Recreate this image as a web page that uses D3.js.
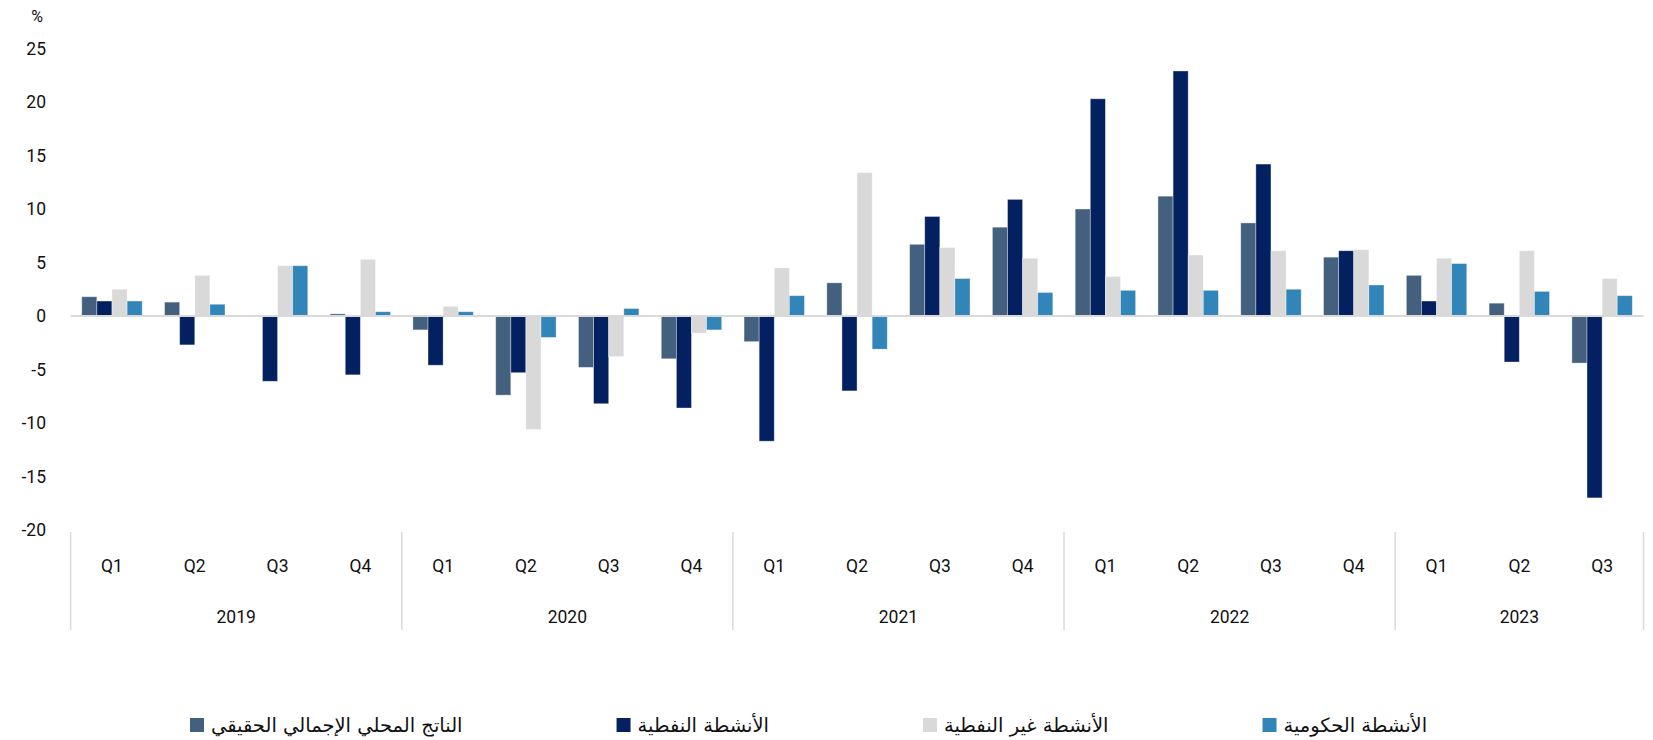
<!DOCTYPE html>
<html>
<head>
<meta charset="utf-8">
<script src="https://cdn.jsdelivr.net/npm/d3@7"></script>
<style>
  body { margin: 0; background: #fff; }
  svg { display: block; }
  .tick-label { font-family: Roboto, "DejaVu Sans", sans-serif; font-size: 17.5px; fill: #111; }
  .legend-label { font-family: "DejaVu Sans", sans-serif; font-size: 19.5px; fill: #111; }
</style>
</head>
<body>
<svg id="chart"></svg>
<script>
// data (% y/y)
const years = ['2019', '2020', '2021', '2022', '2023'];
const quartersPerYear = [4, 4, 4, 4, 3];
const quarterNames = ['Q1', 'Q2', 'Q3', 'Q4'];

const gdp    = [1.8, 1.3, 0.0, 0.2, -1.3, -7.4, -4.8, -4.0, -2.4, 3.1, 6.7, 8.3, 10.0, 11.2, 8.7, 5.5, 3.8, 1.2, -4.4];
const oil    = [1.4, -2.7, -6.1, -5.5, -4.6, -5.3, -8.2, -8.6, -11.7, -7.0, 9.3, 10.9, 20.3, 22.9, 14.2, 6.1, 1.4, -4.3, -17.0];
const nonOil = [2.5, 3.8, 4.7, 5.3, 0.9, -10.6, -3.8, -1.6, 4.5, 13.4, 6.4, 5.4, 3.7, 5.7, 6.1, 6.2, 5.4, 6.1, 3.5];
const gov    = [1.4, 1.1, 4.7, 0.4, 0.4, -2.0, 0.7, -1.3, 1.9, -3.1, 3.5, 2.2, 2.4, 2.4, 2.5, 2.9, 4.9, 2.3, 1.9];

const seriesNames = ['الناتج المحلي الإجمالي الحقيقي', 'الأنشطة النفطية', 'الأنشطة غير النفطية', 'الأنشطة الحكومية'];
const seriesColors = ['#44607f', '#032060', '#d9d9d9', '#3285b8'];
const seriesValues = [gdp, oil, nonOil, gov];
const yTicks = [25, 20, 15, 10, 5, 0, -5, -10, -15, -20];

const width = 1653, height = 740;
const margin = {left: 70.6, right: 9.5, top: 48.5, bottom: 210};

// build the quarter list
const periods = [];
years.forEach((yr, i) => {
  for (let q = 0; q < quartersPerYear[i]; q++) {
    periods.push({key: yr + '-' + quarterNames[q], year: yr, q: quarterNames[q]});
  }
});

const svg = d3.select('#chart').attr('width', width).attr('height', height);

const x0 = d3.scaleBand()
  .domain(periods.map(d => d.key))
  .range([margin.left, width - margin.right])
  .paddingInner(0.27)
  .paddingOuter(0.135);

const x1 = d3.scaleBand()
  .domain(d3.range(seriesNames.length))
  .range([0, x0.bandwidth()])
  .padding(0);

const y = d3.scaleLinear()
  .domain([-20, 25])
  .range([530, 48.5]);

const step = x0.step();
const plotLeft = margin.left, plotRight = width - margin.right;

// y tick labels
svg.append('g')
  .selectAll('text')
  .data(yTicks)
  .join('text')
  .attr('class', 'tick-label')
  .attr('x', 46)
  .attr('y', d => y(d))
  .attr('dy', '0.35em')
  .attr('text-anchor', 'end')
  .text(d => d);

svg.append('text')
  .attr('class', 'tick-label')
  .attr('x', 37)
  .attr('y', 16)
  .attr('dy', '0.35em')
  .attr('text-anchor', 'middle')
  .style('font-size', '16px')
  .text('%');

// bars
const groups = svg.append('g')
  .selectAll('g')
  .data(periods)
  .join('g')
  .attr('transform', d => `translate(${x0(d.key)},0)`);

groups.selectAll('rect')
  .data((d, i) => seriesValues.map((vals, s) => ({s, v: vals[i]})))
  .join('rect')
  .attr('x', d => x1(d.s))
  .attr('y', d => y(Math.max(0, d.v)))
  .attr('width', x1.bandwidth())
  .attr('height', d => Math.abs(y(d.v) - y(0)))
  .attr('fill', d => seriesColors[d.s])
  .attr('stroke', '#ffffff')
  .attr('stroke-opacity', 0.45)
  .attr('stroke-width', 0.8);

// zero line
svg.append('line')
  .attr('x1', plotLeft).attr('x2', plotRight)
  .attr('y1', y(0)).attr('y2', y(0))
  .attr('stroke', '#d9d9d9')
  .attr('stroke-width', 2);

// category axis: quarter labels, year labels, separators
const axisTop = 532, axisBottom = 630;

svg.append('g')
  .selectAll('text')
  .data(periods)
  .join('text')
  .attr('class', 'tick-label')
  .attr('x', d => x0(d.key) + x0.bandwidth() / 2)
  .attr('y', 566)
  .attr('dy', '0.35em')
  .attr('text-anchor', 'middle')
  .text(d => d.q);

let cum = 0;
const yearSpans = years.map((yr, i) => {
  const start = plotLeft + cum * step;
  cum += quartersPerYear[i];
  return {year: yr, start, end: plotLeft + cum * step};
});

svg.append('g')
  .selectAll('text')
  .data(yearSpans)
  .join('text')
  .attr('class', 'tick-label')
  .attr('x', d => (d.start + d.end) / 2)
  .attr('y', 617)
  .attr('dy', '0.35em')
  .attr('text-anchor', 'middle')
  .text(d => d.year);

const seps = [yearSpans[0].start].concat(yearSpans.map(d => d.end));
svg.append('g')
  .selectAll('line')
  .data(seps)
  .join('line')
  .attr('x1', d => d).attr('x2', d => d)
  .attr('y1', axisTop).attr('y2', axisBottom)
  .attr('stroke', '#d9d9d9')
  .attr('stroke-width', 1.5);

// legend
const legend = svg.append('g');
const legendY = 725;
const legendGap = 154;
let lx = 190;
seriesNames.forEach((name, i) => {
  const item = legend.append('g').attr('transform', `translate(${lx},0)`);
  item.append('rect')
    .attr('x', 0).attr('y', legendY - 7)
    .attr('width', 14).attr('height', 14)
    .attr('fill', seriesColors[i]);
  const t = item.append('text')
    .attr('class', 'legend-label')
    .attr('x', 21)
    .attr('y', legendY)
    .attr('dy', '0.35em')
    .text(name);
  lx += 21 + t.node().getComputedTextLength() + legendGap;
});
</script>
</body>
</html>
